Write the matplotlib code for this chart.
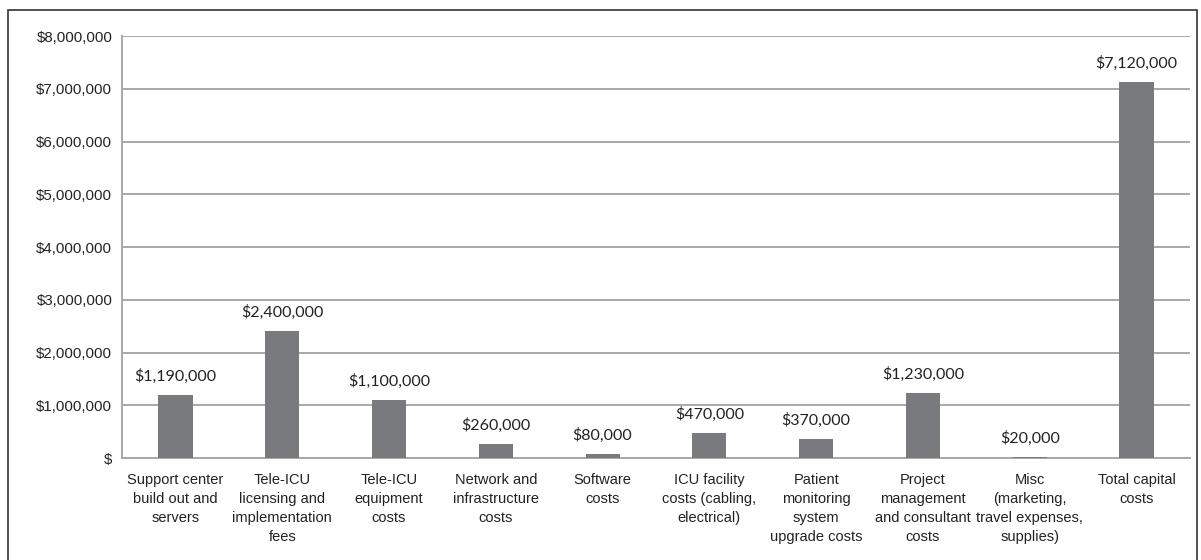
import matplotlib.pyplot as plt
from matplotlib.patches import Rectangle
import numpy as np

categories = [
    "Support center\nbuild out and\nservers",
    "Tele-ICU\nlicensing and\nimplementation\nfees",
    "Tele-ICU\nequipment\ncosts",
    "Network and\ninfrastructure\ncosts",
    "Software\ncosts",
    "ICU facility\ncosts (cabling,\nelectrical)",
    "Patient\nmonitoring\nsystem\nupgrade costs",
    "Project\nmanagement\nand consultant\ncosts",
    "Misc\n(marketing,\ntravel expenses,\nsupplies)",
    "Total capital\ncosts",
]
costs = [1190000, 2400000, 1100000, 260000, 80000, 470000, 370000, 1230000, 20000, 7120000]
yticks = [0, 1000000, 2000000, 3000000, 4000000, 5000000, 6000000, 7000000, 8000000]

tick_font = ['Liberation Sans', 'DejaVu Sans']
label_font = ['Lato', 'DejaVu Sans']

fig = plt.figure(figsize=(12.01, 5.6), dpi=100)
ax = fig.add_axes([0.1016, 0.1821, 0.8892, 0.7536])

# outer frame
fig.patches.append(Rectangle((8 / 1201, -0.05), 1189 / 1201, 1.05 - 10 / 560,
                             transform=fig.transFigure, fill=False,
                             edgecolor='#333333', linewidth=1.2))

x = np.arange(len(categories))
ax.bar(x, costs, width=0.32, color='#797a7e', zorder=3)

for xi, v in zip(x, costs):
    ax.annotate(f"${v:,.0f}", (xi, v), xytext=(0, 8), textcoords='offset points',
                ha='center', va='bottom', fontsize=11.5, family=label_font, color='#222222')

ax.set_xlim(-0.5, len(categories) - 0.5)
ax.set_ylim(0, 8000000)
ax.set_yticks(yticks)
ax.set_yticklabels(["$" if v == 0 else f"${v:,.0f}" for v in yticks],
                   family=tick_font, fontsize=10.8, color='#222222')
ax.set_xticks(x)
ax.set_xticklabels(categories, family=tick_font, fontsize=10.5, color='#222222',
                   linespacing=1.45, va='top')

ax.tick_params(axis='both', length=0)
ax.tick_params(axis='y', pad=7)
ax.tick_params(axis='x', pad=11)
ax.grid(axis='y', color='#a8a8a8', linewidth=1.4, zorder=0)
for s in ['top', 'right']:
    ax.spines[s].set_visible(False)
for s in ['left', 'bottom']:
    ax.spines[s].set_color('#a8a8a8')
    ax.spines[s].set_linewidth(1.4)

fig.savefig('out.png', dpi=100)
